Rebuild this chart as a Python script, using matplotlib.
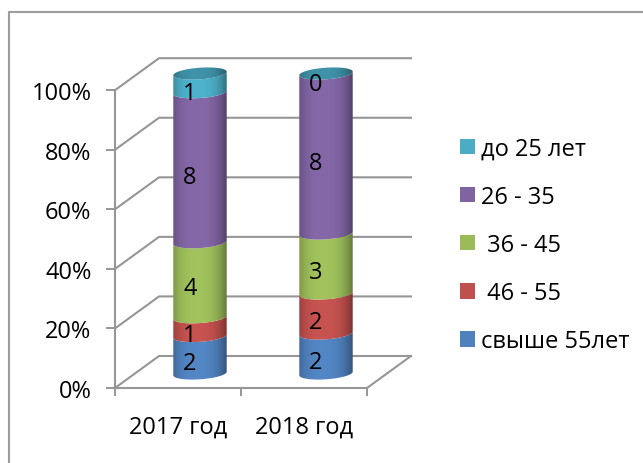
import numpy as np
import matplotlib
matplotlib.use("Agg")
import matplotlib.pyplot as plt
from matplotlib.lines import Line2D
from matplotlib.patches import Patch, Polygon

# ---- data ----
years = ["2017 год", "2018 год"]
series_names = ["свыше 55лет", " 46 - 55", " 36 - 45", "26 - 35", "до 25 лет"]
over_55 = [2, 2]
age_46_55 = [1, 2]
age_36_45 = [4, 3]
age_26_35 = [8, 8]
under_25 = [1, 0]
colors = ["#4F81BD", "#C0504D", "#9BBB59", "#8064A2", "#4BACC6"]
y_ticks = [0, 20, 40, 60, 80, 100]
y_labels = ["0%", "20%", "40%", "60%", "80%", "100%"]

W, H = 643, 464
plt.rcParams["font.family"] = ["Open Sans", "DejaVu Sans"]
FS = 17
GRAY = "#969696"

fig = plt.figure(figsize=(W / 100, H / 100), dpi=100, facecolor="white")
L, R, T, B = 115, 367, 91.2, 389
ax = fig.add_axes([L / W, 1 - B / H, (R - L) / W, (B - T) / H])
ax.patch.set_visible(False)
ax.set_xlim(0, 2)
ax.set_ylim(0, 100)
PX = 2 / (R - L)      # data x per pixel
PY = 100 / (B - T)    # data y per pixel
DX, DY = 44 * PX, 32 * PY

for s in ("top", "right"):
    ax.spines[s].set_visible(False)
for s in ("left", "bottom"):
    ax.spines[s].set_color(GRAY)
    ax.spines[s].set_linewidth(1.5)
ax.set_yticks(y_ticks, y_labels)
ax.set_xticks([0, 1, 2], ["", "", ""])
ax.set_xticks([0.5, 1.5], years, minor=True)
ax.tick_params(axis="y", length=6.5, width=1.4, color=GRAY, labelsize=FS, pad=10.5)
ax.tick_params(axis="x", which="major", length=6, width=1.4, color=GRAY)
ax.tick_params(axis="x", which="minor", length=0, labelsize=FS, pad=19)
for lab in ax.get_yticklabels():
    lab.set_verticalalignment("center_baseline")

# walls: gridlines and floor
for v in y_ticks:
    ax.plot([0, DX, 2 + DX], [v, v + DY, v + DY], color=GRAY, lw=1.5, clip_on=False, zorder=1)
ax.plot([2 + DX, 2], [DY, 0], color=GRAY, lw=1.5, clip_on=False, zorder=1)

# cylinders
stack = np.array([over_55, age_46_55, age_36_45, age_26_35, under_25], dtype=float)
totals = stack.sum(axis=0)
HALF_W, ELL_B, ELL_S = 26.7 * PX, 5.8 * PY, 1.8 * PY
BASE_OFF = 14.5 * PY
HEIGHT_SCALE = 300 / (B - T)
u = np.linspace(0, 1, 128)
shade = 1.04 - 0.40 * (np.abs(u - 0.45) / 0.55) ** 2.8
t_arc = np.linspace(np.pi, 2 * np.pi, 60)


def gradient(color, factor=1.0):
    rgb = np.array(matplotlib.colors.to_rgb(color))
    return np.clip(shade[None, :, None] * rgb * factor, 0, 1)


def arc(xc, y0, t):
    return np.c_[xc + HALF_W * np.cos(t), y0 + ELL_B * np.sin(t) + ELL_S * np.cos(t)]


for i in range(len(years)):
    xc = i + 0.5 + DX / 2
    base = 0.0
    for j, name in enumerate(series_names):
        share = stack[j, i] / totals[i] * 100
        y0 = base * HEIGHT_SCALE + BASE_OFF
        y1 = (base + share) * HEIGHT_SCALE + BASE_OFF
        if share > 0:
            pts = np.vstack([arc(xc, y0, t_arc), arc(xc, y1, t_arc[::-1])])
            clip = Polygon(pts, closed=True, transform=ax.transData, fc="none", ec="none")
            ax.add_patch(clip)
            im = ax.imshow(gradient(colors[j]), extent=[xc - HALF_W, xc + HALF_W, y0 - 3, y1 + 3],
                           aspect="auto", zorder=3, interpolation="bilinear")
            im.set_clip_path(clip)
            im.set_clip_box(fig.bbox)
        # value label, placed in the front plane slightly off-centre
        ax.text(i + 0.5 + 12 * PX, base + share / 2 + 6.5 * PY, f"{int(stack[j, i])}",
                ha="center", va="center", fontsize=FS, color="black", zorder=6, clip_on=False)
        base += share
    # top cap
    top = base * HEIGHT_SCALE + BASE_OFF
    t_full = np.linspace(0, 2 * np.pi, 120)
    cap = Polygon(arc(xc, top, t_full), closed=True, transform=ax.transData, fc="none", ec="none")
    ax.add_patch(cap)
    im = ax.imshow(gradient(colors[-1], 0.82), extent=[xc - HALF_W, xc + HALF_W, top - 4, top + 4],
                   aspect="auto", zorder=4, interpolation="bilinear")
    im.set_clip_path(cap)
    im.set_clip_box(fig.bbox)

ax.set_xlim(0, 2)
ax.set_ylim(0, 100)

# legend
handles = [Patch(facecolor=c, edgecolor="none", label=n) for c, n in zip(colors, series_names)]
leg = ax.legend(handles[::-1], series_names[::-1], frameon=False, fontsize=FS,
                loc="center left", bbox_to_anchor=((460 - L) / (R - L), (B - 246) / (B - T)),
                borderpad=0, borderaxespad=0, handlelength=0.635, handleheight=0.635,
                handletextpad=0.25, labelspacing=1.02)

# outer frame: only the top and left edges are drawn, running off the picture
fig.add_artist(Line2D([8.5 / W, 8.5 / W, 1], [0, 1 - 12.5 / H, 1 - 12.5 / H],
                      transform=fig.transFigure, color="#9C9C9C", lw=1.5))

fig.savefig("out.png", dpi=100)
